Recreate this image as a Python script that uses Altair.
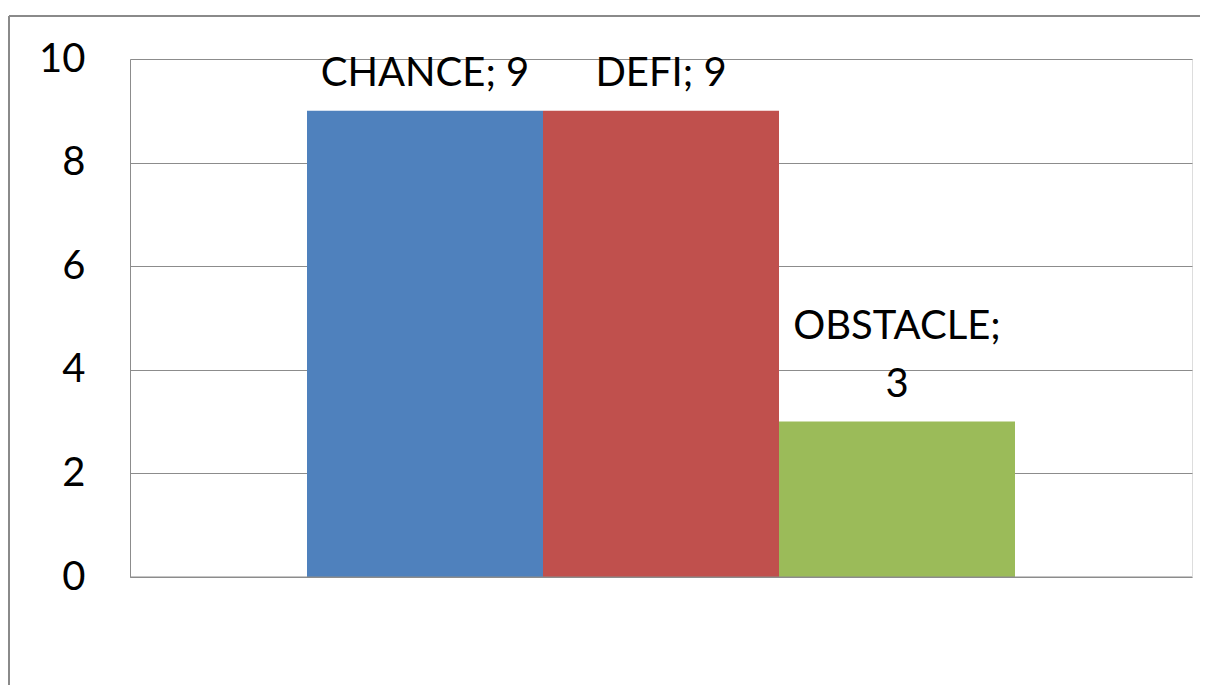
import altair as alt
import pandas as pd

categories = ["CHANCE", "DEFI", "OBSTACLE"]
values = [9, 9, 3]
labels = [["CHANCE; 9"], ["DEFI; 9"], ["OBSTACLE;", "3"]]
colors = ["#4F81BD", "#C0504D", "#9BBB59"]
y_ticks = [0, 2, 4, 6, 8, 10]

df = pd.DataFrame({"cat": categories, "val": values})

# one row per label line, with its rank counted from the bottom line
rows = []
for c, v, lines in zip(categories, values, labels):
    n = len(lines)
    for i, line in enumerate(lines):
        rows.append({"cat": c, "val": v, "line": line, "rank": n - 1 - i})
lab_df = pd.DataFrame(rows)

W, H = 1062, 518
FONT = "Lato"
LH = 58
FRAME = "#8a8a8a"

x_enc = alt.X("cat:N", sort=categories, axis=None,
              scale=alt.Scale(paddingInner=0, paddingOuter=0.75))
y_scale = alt.Scale(domain=[0, 10])

frame_src = alt.Chart(pd.DataFrame({"k": [0]}))
frame_top = frame_src.mark_rule(color=FRAME, strokeWidth=2, clip=False).encode(
    x=alt.value(-121), x2=alt.value(W + 10), y=alt.value(-43)
)
frame_left = frame_src.mark_rule(color=FRAME, strokeWidth=2, clip=False).encode(
    x=alt.value(-121), y=alt.value(-43), y2=alt.value(H + 120)
)

bars = alt.Chart(df).mark_bar(size=236).encode(
    x=x_enc,
    y=alt.Y("val:Q", scale=y_scale,
            axis=alt.Axis(values=y_ticks, grid=True, gridColor="#8c8c8c",
                          gridWidth=1, ticks=False, domain=True,
                          domainColor="#8c8c8c", domainWidth=1,
                          labelFont=FONT, labelFontSize=40,
                          labelColor="#000000", labelPadding=45,
                          title=None)),
    color=alt.Color("cat:N", scale=alt.Scale(domain=categories, range=colors),
                    legend=None),
)

baseline_rule = alt.Chart(pd.DataFrame({"z": [0]})).mark_rule(
    color="#8c8c8c", strokeWidth=1
).encode(y=alt.Y("z:Q", scale=y_scale),
         x=alt.value(0), x2=alt.value(W))


def text_layer(rank):
    return alt.Chart(lab_df).transform_filter(
        alt.datum.rank == rank
    ).mark_text(
        font=FONT, fontSize=40, color="#000000", baseline="bottom",
        align="center", dy=-16.6 - rank * LH
    ).encode(
        x=x_enc,
        y=alt.Y("val:Q", scale=y_scale),
        text="line:N",
    )


chart = alt.layer(frame_top, frame_left, bars, baseline_rule,
                  text_layer(0), text_layer(1)).properties(
    width=W, height=H,
    autosize=alt.AutoSizeParams(type="none"),
    padding={"left": 122, "top": 51, "right": 8, "bottom": 108},
).configure_view(stroke=None).configure(background="white")

chart.save("out.html", embed_options={"renderer": "svg", "actions": False})
